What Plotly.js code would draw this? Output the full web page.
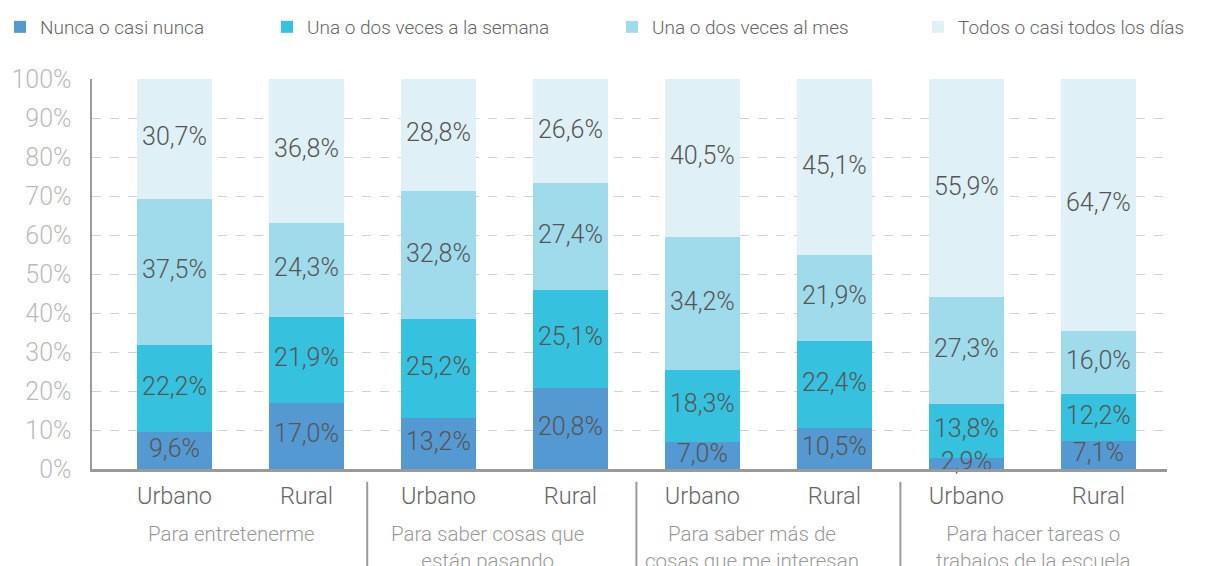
<!DOCTYPE html>
<html>
<head>
<meta charset="utf-8">
<script src="https://cdn.plot.ly/plotly-3.0.1.min.js"></script>
<style>html,body{margin:0;padding:0;background:#fff}#chart{width:1212px;height:566px}</style>
</head>
<body>
<div id="chart"></div>
<script>
// ---- data ----
const barLabels = ["Urbano","Rural","Urbano","Rural","Urbano","Rural","Urbano","Rural"];
const groupLabels = ["Para entretenerme","Para saber cosas que<br>están pasando","Para saber más de<br>cosas que me interesan","Para hacer tareas o<br>trabajos de la escuela"];
const seriesNames = ["Nunca o casi nunca","Una o dos veces a la semana","Una o dos veces al mes","Todos o casi todos los días"];
const nunca  = [9.6,17.0,13.2,20.8,7.0,10.5,2.9,7.1];
const semana = [22.2,21.9,25.2,25.1,18.3,22.4,13.8,12.2];
const mes    = [37.5,24.3,32.8,27.4,34.2,21.9,27.3,16.0];
const todos  = [30.7,36.8,28.8,26.6,40.5,45.1,55.9,64.7];
const yTicks = [0,10,20,30,40,50,60,70,80,90,100];

const colors = ["#5599d2","#36c2de","#a0dbeb","#dff1f6"];
const FONT = "Roboto, 'Liberation Sans', sans-serif";
const xs = barLabels.map((_, i) => i);
const fmt = v => v.toFixed(1).replace(".", ",") + "%";
const allSeries = [nunca, semana, mes, todos];
const legendIds = ["legend", "legend2", "legend3", "legend4"];

const traces = allSeries.map((vals, k) => ({
  type: "bar",
  name: seriesNames[k],
  legend: legendIds[k],
  x: xs,
  y: vals,
  width: 0.57,
  marker: {color: colors[k], line: {width: 0}},
  hoverinfo: "none"
}));

// value labels drawn on top of all bars (centre of each stacked segment)
const lx = [], ly = [], lt = [];
xs.forEach(i => {
  let base = 0;
  allSeries.forEach(vals => {
    lx.push(i); ly.push(base + vals[i] / 2); lt.push(fmt(vals[i]));
    base += vals[i];
  });
});
traces.push({
  type: "scatter", mode: "text", x: lx, y: ly, text: lt,
  textposition: "middle center", cliponaxis: false, showlegend: false,
  textfont: {family: FONT, size: 25, color: "#555555", weight: 300},
  hoverinfo: "none"
});

const groupX = [0.43, 2.37, 4.375, 6.51];
const annotations = groupLabels.map((t, i) => ({
  x: groupX[i], xref: "x", y: 0, yref: "paper",
  yshift: -51, yanchor: "top", showarrow: false,
  text: t, align: "center",
  font: {family: FONT, size: 20.5, color: "#999999", weight: 300}
}));

const shapes = [1.46, 3.5, 5.5].map(xv => ({
  type: "line", xref: "x", yref: "paper", x0: xv, x1: xv,
  y0: -0.033, y1: -0.26, line: {color: "#9a9a9a", width: 2}
}));

const legendLeftPx = [0, 267, 612, 918];
const legendBase = {
  orientation: "h", xanchor: "left", yref: "container", y: 1 - 27 / 566, yanchor: "middle",
  xref: "container", bgcolor: "rgba(0,0,0,0)",
  font: {family: FONT, size: 19, color: "#666666", weight: 300},
  itemclick: false, itemdoubleclick: false
};

const layout = {
  width: 1212, height: 566,
  margin: {l: 92, r: 45, t: 79, b: 97, autoexpand: false},
  paper_bgcolor: "#ffffff", plot_bgcolor: "#ffffff",
  barmode: "stack",
  font: {family: FONT, weight: 300},
  showlegend: true,
  xaxis: {
    range: [-0.625, 7.52],
    tickvals: xs, ticktext: barLabels,
    tickfont: {family: FONT, size: 23.5, color: "#666666", weight: 300},
    ticks: "", showgrid: false, zeroline: false,
    showline: true, linecolor: "#9a9a9a", linewidth: 2.5,
    ticklabelstandoff: 4,
    fixedrange: true
  },
  yaxis: {
    range: [0, 100],
    tickvals: yTicks, ticktext: yTicks.map(v => v + "%"),
    tickfont: {family: FONT, size: 25, color: "#bbbbbb", weight: 300},
    ticks: "", showgrid: true, gridcolor: "#d2d2d2", gridwidth: 1, griddash: "dash",
    zeroline: false, showline: true, linecolor: "#9a9a9a", linewidth: 2.5,
    ticklabelstandoff: 13,
    fixedrange: true
  },
  annotations: annotations,
  shapes: shapes
};
legendIds.forEach((id, k) => {
  layout[id] = Object.assign({}, legendBase, {x: legendLeftPx[k] / 1212});
});

Plotly.newPlot("chart", traces, layout, {displayModeBar: false, staticPlot: true});
</script>
</body>
</html>
